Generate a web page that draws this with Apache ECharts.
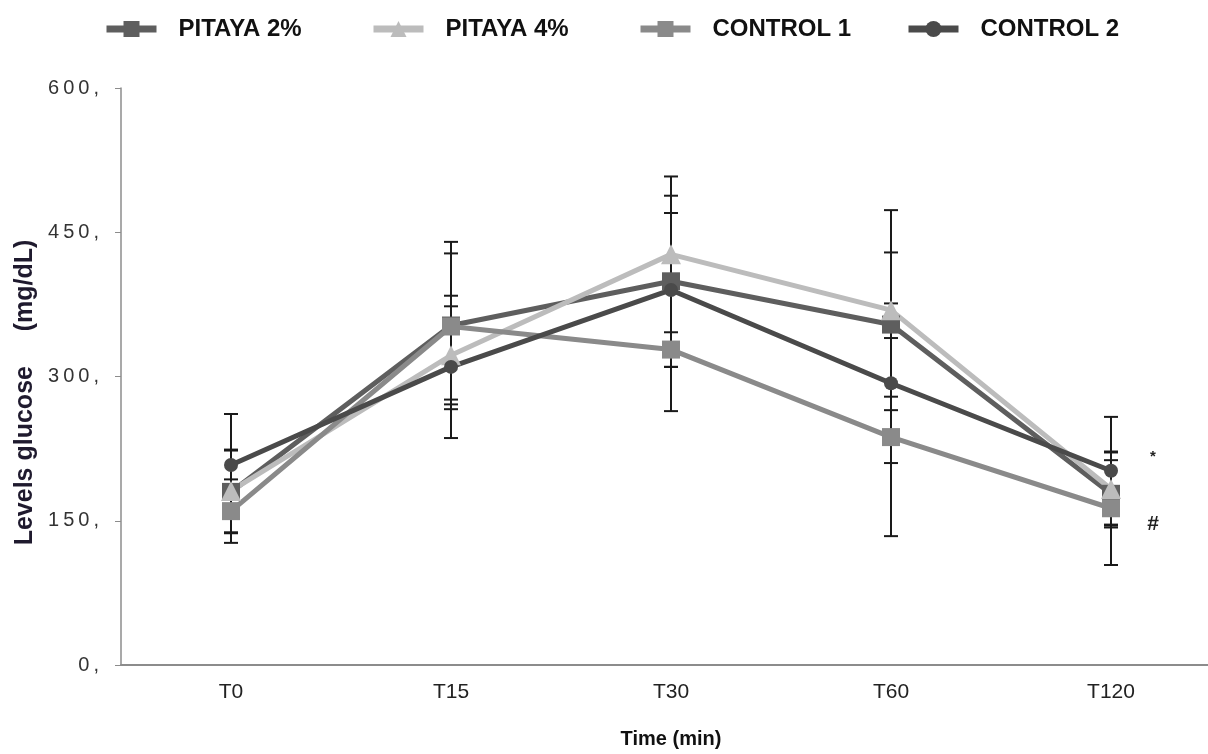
<!DOCTYPE html>
<html>
<head>
<meta charset="utf-8">
<title>Levels glucose</title>
<style>
  html, body { margin: 0; padding: 0; background: #fff; }
  #chart { width: 1208px; height: 754px; }
</style>
<script src="https://cdn.jsdelivr.net/npm/echarts@6/dist/echarts.min.js"></script>
</head>
<body>
<div id="chart"></div>
<script>
const categories = ['T0', 'T15', 'T30', 'T60', 'T120']
const yTicks = [0, 150, 300, 450, 600]

const pitaya2 = [180, 353, 399, 354, 178]
const pitaya2Sd = [43, 87, 89, 75, 35]
const pitaya4 = [181, 322, 427, 369, 183]
const pitaya4Sd = [43, 51, 81, 104, 38]
const control1 = [160, 352, 328, 237, 163]
const control1Sd = [33, 76, 64, 103, 59]
const control2 = [208, 310, 390, 293, 202]
const control2Sd = [53, 74, 80, 83, 56]

const font = 'Liberation Sans, Arial, sans-serif'

function errorData(means, sds) {
  return means.map((m, i) => [i, m - sds[i], m + sds[i]])
}

function renderError(params, api) {
  const i = api.value(0)
  const lo = api.coord([i, api.value(1)])
  const hi = api.coord([i, api.value(2)])
  const w = 7
  const style = { stroke: '#1a1a1a', lineWidth: 2 }
  return {
    type: 'group',
    children: [
      { type: 'line', shape: { x1: hi[0], y1: hi[1], x2: lo[0], y2: lo[1] }, style },
      { type: 'line', shape: { x1: hi[0] - w, y1: hi[1], x2: hi[0] + w, y2: hi[1] }, style },
      { type: 'line', shape: { x1: lo[0] - w, y1: lo[1], x2: lo[0] + w, y2: lo[1] }, style },
    ],
  }
}

const groups = [
  { name: 'PITAYA 2%', data: pitaya2, sd: pitaya2Sd, color: '#5e5e5e', symbol: 'rect', size: 18, left: 103 },
  { name: 'PITAYA 4%', data: pitaya4, sd: pitaya4Sd, color: '#bcbcbc', symbol: 'triangle', size: 20, left: 370 },
  { name: 'CONTROL 1', data: control1, sd: control1Sd, color: '#8a8a8a', symbol: 'rect', size: 18, left: 637 },
  { name: 'CONTROL 2', data: control2, sd: control2Sd, color: '#4a4a4a', symbol: 'circle', size: 14, left: 905 },
]

const errorSeries = groups.map((g) => ({
  type: 'custom',
  name: g.name + ' SD',
  renderItem: renderError,
  data: errorData(g.data, g.sd),
  encode: { x: 0, y: [1, 2] },
  z: 1,
  silent: true,
}))

const lineSeries = groups.map((g) => ({
  type: 'line',
  name: g.name,
  data: g.data,
  symbol: g.symbol,
  symbolSize: g.size,
  color: g.color,
  lineStyle: { width: 5, color: g.color },
  itemStyle: { color: g.color },
  z: 3,
}))

// significance marks at T120
lineSeries[3].markPoint = {
  symbol: 'circle',
  symbolSize: 1,
  itemStyle: { color: 'transparent' },
  label: { show: true, fontFamily: font, fontWeight: 'bold', color: '#222', offset: [42, 0] },
  data: [
    { coord: ['T120', 216], value: '*', label: { formatter: '*', fontSize: 15 } },
    { coord: ['T120', 146], value: '#', label: { formatter: '#', fontSize: 21 } },
  ],
}

const legends = groups.map((g) => ({
  data: [g.name],
  left: g.left,
  top: 17,
  padding: 0,
  itemWidth: 50,
  itemHeight: 20,
  lineStyle: { width: 7 },
  textStyle: { fontFamily: font, fontSize: 24, fontWeight: 'bold', color: '#111', padding: [0, 0, 0, 17] },
}))

const chart = echarts.init(document.getElementById('chart'))

chart.setOption({
  animation: false,
  backgroundColor: '#fff',
  legend: legends,
  grid: { left: 121, top: 88, width: 1100, height: 577, outerBoundsMode: 'none', containLabel: false },
  xAxis: {
    type: 'category',
    data: categories,
    name: 'Time (min)',
    nameLocation: 'middle',
    nameGap: 64,
    nameTextStyle: { fontFamily: font, fontSize: 20, fontWeight: 'bold', color: '#111' },
    axisLine: { lineStyle: { color: '#8c8c8c', width: 2 } },
    axisTick: { length: 8, lineStyle: { color: '#8c8c8c' } },
    axisLabel: { fontFamily: font, fontSize: 21, color: '#222', margin: 17 },
  },
  yAxis: {
    type: 'value',
    min: yTicks[0],
    max: yTicks[yTicks.length - 1],
    interval: 150,
    name: 'Levels glucose     (mg/dL)',
    nameLocation: 'middle',
    nameGap: 82,
    nameTextStyle: { fontFamily: font, fontSize: 25, fontWeight: 'bold', color: '#1f1a2e', padding: [0, 32, 0, 0] },
    axisLine: { show: true, lineStyle: { color: '#8c8c8c', width: 1.5 } },
    axisTick: { show: true, length: 6, lineStyle: { color: '#8c8c8c' } },
    splitLine: { show: false },
    axisLabel: {
      fontFamily: font,
      fontSize: 20,
      color: '#333',
      margin: 22,
      formatter: (v) => String(v).split('').join('\u2009') + '\u2009,',
    },
  },
  series: [...errorSeries, ...lineSeries],
})

window.addEventListener('resize', () => {
  chart.resize()
})
</script>
</body>
</html>
